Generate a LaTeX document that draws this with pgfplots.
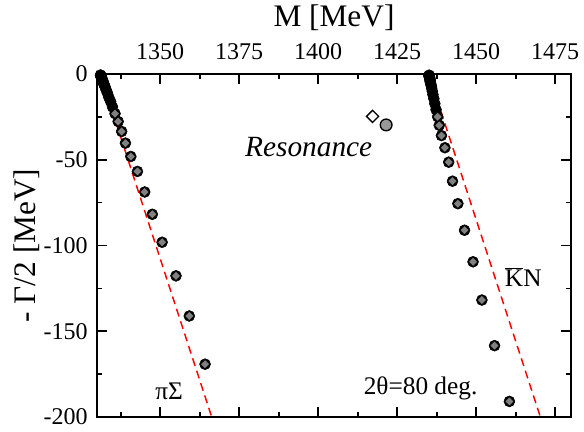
\documentclass[border=0pt]{standalone}
\usepackage{fontspec}
\setmainfont{Liberation Serif}
\usepackage{pgfplots}
\pgfplotsset{compat=1.18}
\usetikzlibrary{calc}

\pgfplotstableread{
x y
1331.1 -0.6
1331.2 -0.8
1331.2 -1.0
1331.2 -1.2
1331.3 -1.5
1331.4 -1.8
1331.4 -2.2
1331.5 -2.6
1331.6 -3.1
1331.8 -3.7
1331.9 -4.5
1332.1 -5.4
1332.3 -6.4
1332.6 -7.7
1332.9 -9.3
1333.3 -11.1
1333.7 -13.4
1334.3 -16.0
1334.9 -19.2
1335.7 -23.1
1336.7 -27.7
1337.8 -33.5
1339.0 -40.3
1340.7 -48.1
1342.8 -56.8
1345.1 -68.8
1347.5 -81.8
1350.6 -98.1
1355.0 -117.7
1359.2 -141.1
1364.2 -169.2
}\pisigma

\pgfplotstableread{
x y
1435.1 -0.7
1435.1 -0.9
1435.1 -1.1
1435.1 -1.3
1435.2 -1.6
1435.2 -1.9
1435.3 -2.3
1435.3 -2.8
1435.4 -3.3
1435.4 -4.0
1435.5 -4.8
1435.6 -5.8
1435.8 -6.9
1435.9 -8.3
1436.1 -10.0
1436.3 -12.0
1436.6 -14.4
1436.9 -17.3
1437.3 -20.8
1437.8 -24.9
1438.3 -29.9
1439.0 -35.9
1440.1 -43.0
1441.3 -51.4
1442.5 -62.5
1444.2 -75.6
1446.3 -91.1
1449.0 -109.5
1451.8 -131.8
1455.8 -158.4
1460.5 -190.9
}\kbarn

\begin{document}
\begin{tikzpicture}
\begin{axis}[
  name=ax,
  scale only axis, width=355.5pt, height=257.25pt,
  xmin=1330, xmax=1480, ymin=-200, ymax=0,
  axis line style={line width=1.5pt},
  tick style={line width=1.2pt, black},
  major tick length=7.5pt, minor tick length=4pt,
  tick align=inside,
  xtick={1350,1375,1400,1425,1450,1475},
  xticklabels={1350,1375,1400,1425,1450,1475},
  minor xtick={1337.5,1362.5,1387.5,1412.5,1437.5,1462.5},
  ytick={-200,-150,-100,-50,0},
  yticklabels={-200,-150,-100,-50,0},
  minor ytick={-175,-125,-75,-25},
  xticklabel pos=right,
  xticklabel style={font=\rmfamily\fontsize{18}{20}\selectfont, anchor=base, yshift=10.5pt},
  yticklabel style={font=\rmfamily\fontsize{18}{20}\selectfont, anchor=east, inner sep=0pt, xshift=-6.75pt},
  xlabel={M [MeV]},
  xlabel style={font=\rmfamily\fontsize{23.5}{26}\selectfont, at={(axis description cs:0.5,1.163)}, anchor=center},
  ylabel={- Γ/2 [MeV]},
  ylabel style={font=\rmfamily\fontsize{23.5}{26}\selectfont, at={(axis description cs:-0.148,0.5)}, anchor=center},
]
% pi Sigma branch
\addplot[only marks, mark=*, mark size=4.1pt, mark options={fill=black, draw=black}] table[x=x,y=y] {\pisigma};
\addplot[only marks, mark=square*, mark size=2.5pt, mark options={rotate=45, fill=gray, draw=black, line width=0.5pt}, restrict y to domain=-200:-22] table[x=x,y=y] {\pisigma};
% Kbar N branch
\addplot[only marks, mark=*, mark size=4.1pt, mark options={fill=black, draw=black}] table[x=x,y=y] {\kbarn};
\addplot[only marks, mark=square*, mark size=2.5pt, mark options={rotate=45, fill=gray, draw=black, line width=0.5pt}, restrict y to domain=-200:-24] table[x=x,y=y] {\kbarn};
% resonance
\addplot[only marks, mark=square*, mark size=3.2pt, mark options={rotate=45, fill=white, draw=black, line width=1pt}] coordinates {(1417.2,-24.7)};
\addplot[only marks, mark=*, mark size=4.4pt, mark options={fill=gray!80, draw=black, line width=1pt}] coordinates {(1421.5,-29.7)};
% rotated cuts
\addplot[red, line width=1.1pt, dash pattern=on 6pt off 3.75pt] coordinates {(1331,0) (1366.3,-200)};
\addplot[red, line width=1.1pt, dash pattern=on 6pt off 3.75pt] coordinates {(1435,0) (1470.3,-200)};
% labels
\node[font=\rmfamily\itshape\fontsize{22}{24}\selectfont] at (axis cs:1397,-42.7) {Resonance};
\node[font=\rmfamily\fontsize{19}{21}\selectfont] at (axis cs:1352.8,-185.1) {πΣ};
\node[font=\rmfamily\fontsize{19}{21}\selectfont] at (axis cs:1464.9,-118.3) {$\overline{\mbox{K}}$N};
\node[font=\rmfamily\fontsize{19}{21}\selectfont] at (axis cs:1432.4,-183.1) {2θ=80 deg.};
\end{axis}
\pgfresetboundingbox
\path ($(ax.south west)+(-72.75pt,-10.5pt)$) rectangle ($(ax.north east)+(9.75pt,55.5pt)$);
\end{tikzpicture}
\end{document}
